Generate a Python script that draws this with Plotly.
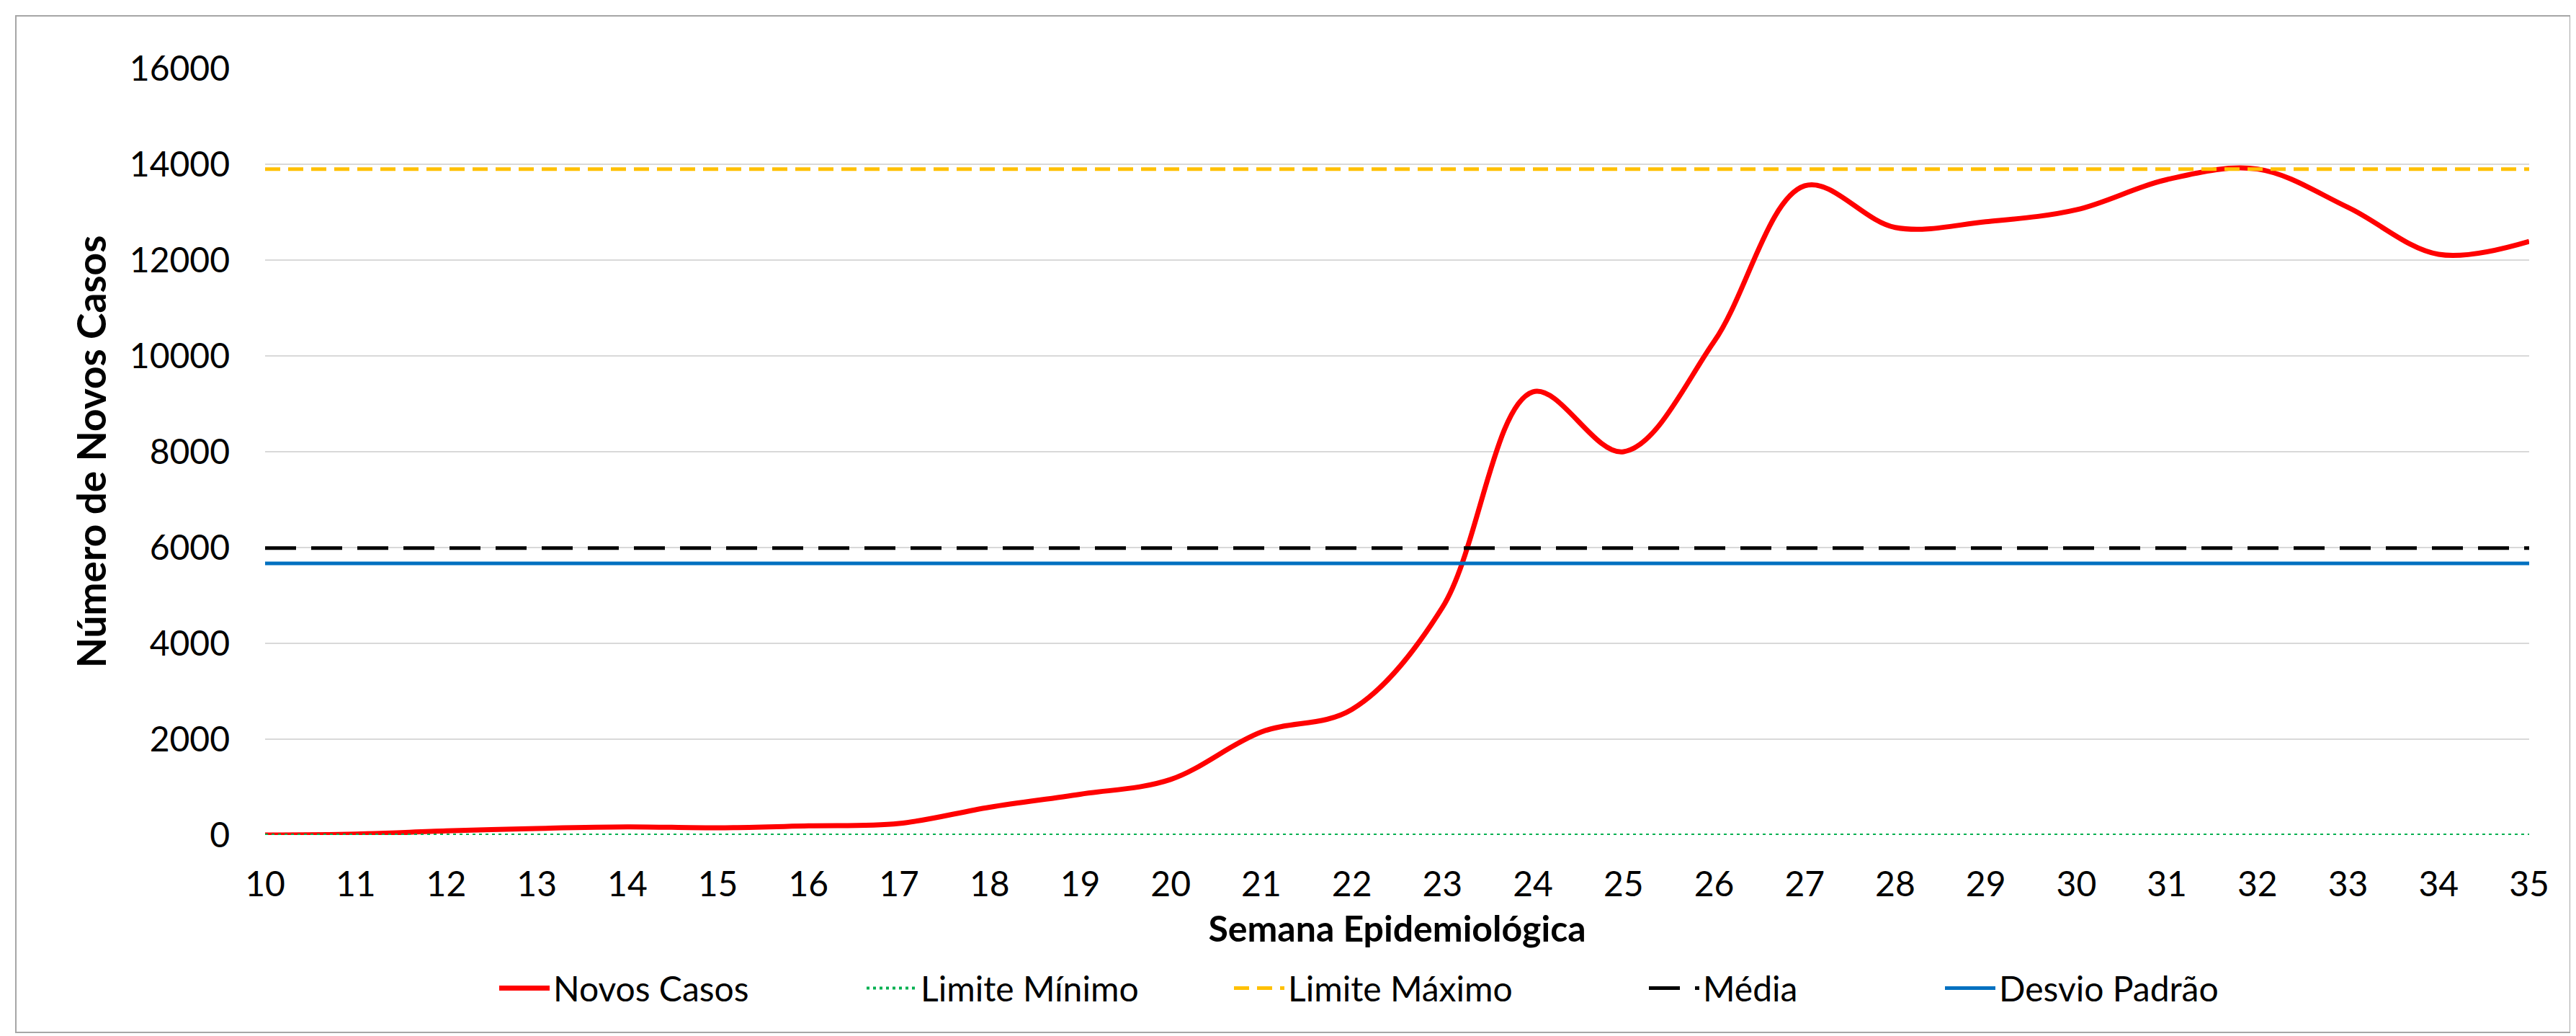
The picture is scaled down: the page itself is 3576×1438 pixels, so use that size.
"""Novos casos por semana epidemiológica, com limites de controle."""

import plotly.graph_objects as go

semanas = list(range(10, 36))
novos_casos = [0, 20, 85, 137, 170, 150, 190, 240, 580, 850, 1160, 2150, 2620,
               4750, 9250, 8000, 10300, 13550, 12680, 12800, 13050, 13680, 13900,
               13100, 12120, 12390]
limite_minimo = 0
limite_maximo = 13900
media = 5990
desvio_padrao = 5670

FONT = "Lato"
W, H = 3576, 1438
ML, MR, MT, MB = 360, 73, 87, 287

fig = go.Figure()
fig.add_trace(go.Scatter(x=semanas, y=novos_casos, name="Novos Casos", mode="lines",
                         line=dict(color="#FF0000", width=7, shape="spline", smoothing=1)))
fig.add_trace(go.Scatter(x=semanas, y=[limite_minimo] * len(semanas), name="Limite Mínimo",
                         mode="lines", line=dict(color="#00B050", width=4, dash="4px,5px")))
fig.add_trace(go.Scatter(x=semanas, y=[limite_maximo] * len(semanas), name="Limite Máximo",
                         mode="lines", line=dict(color="#FFC000", width=5, dash="21px,11px")))
fig.add_trace(go.Scatter(x=semanas, y=[media] * len(semanas), name="Média", legend="legend2",
                         mode="lines", line=dict(color="#000000", width=5, dash="43px,21px")))
fig.add_trace(go.Scatter(x=semanas, y=[desvio_padrao] * len(semanas), name="Desvio Padrão",
                         legend="legend2", mode="lines", line=dict(color="#0070C0", width=5)))

pw, ph = W - ML - MR, H - MT - MB
fig.add_shape(type="rect", xref="paper", yref="paper",
              x0=(14 - ML) / pw, x1=(3560 - ML) / pw,
              y0=(H - MB - 1425) / ph, y1=(H - MB - 14) / ph,
              line=dict(color="#a6a6a6", width=2), fillcolor="rgba(0,0,0,0)", layer="below")

leg = dict(orientation="h", xanchor="left", y=-0.2, yanchor="middle", font=dict(size=48),
           itemwidth=70, entrywidthmode="pixels", bgcolor="rgba(0,0,0,0)")

fig.update_layout(
    width=W, height=H,
    margin=dict(l=ML, r=MR, t=MT, b=MB, autoexpand=False),
    paper_bgcolor="white", plot_bgcolor="white",
    font=dict(family=FONT, size=48, color="black"),
    showlegend=True,
    legend=dict(leg, x=(680 - ML) / pw, entrywidth=425),
    legend2=dict(leg, x=(2276 - ML) / pw, entrywidth=326),
)
fig.update_xaxes(range=[10, 35], tickmode="linear", tick0=10, dtick=1, showgrid=False,
                 zeroline=False, showline=False, ticks="", ticklabelstandoff=36,
                 title=dict(text="<b>Semana Epidemiológica</b>", font=dict(size=50), standoff=18))
fig.update_yaxes(range=[0, 16000], tickmode="linear", tick0=0, dtick=2000, tickformat="d",
                 showgrid=True, gridcolor="#d9d9d9", gridwidth=2, zeroline=False,
                 showline=False, ticks="", ticklabelstandoff=48,
                 title=dict(text="<b>Número de Novos Casos</b>", font=dict(size=55), standoff=14))

fig.write_html("out.html")
